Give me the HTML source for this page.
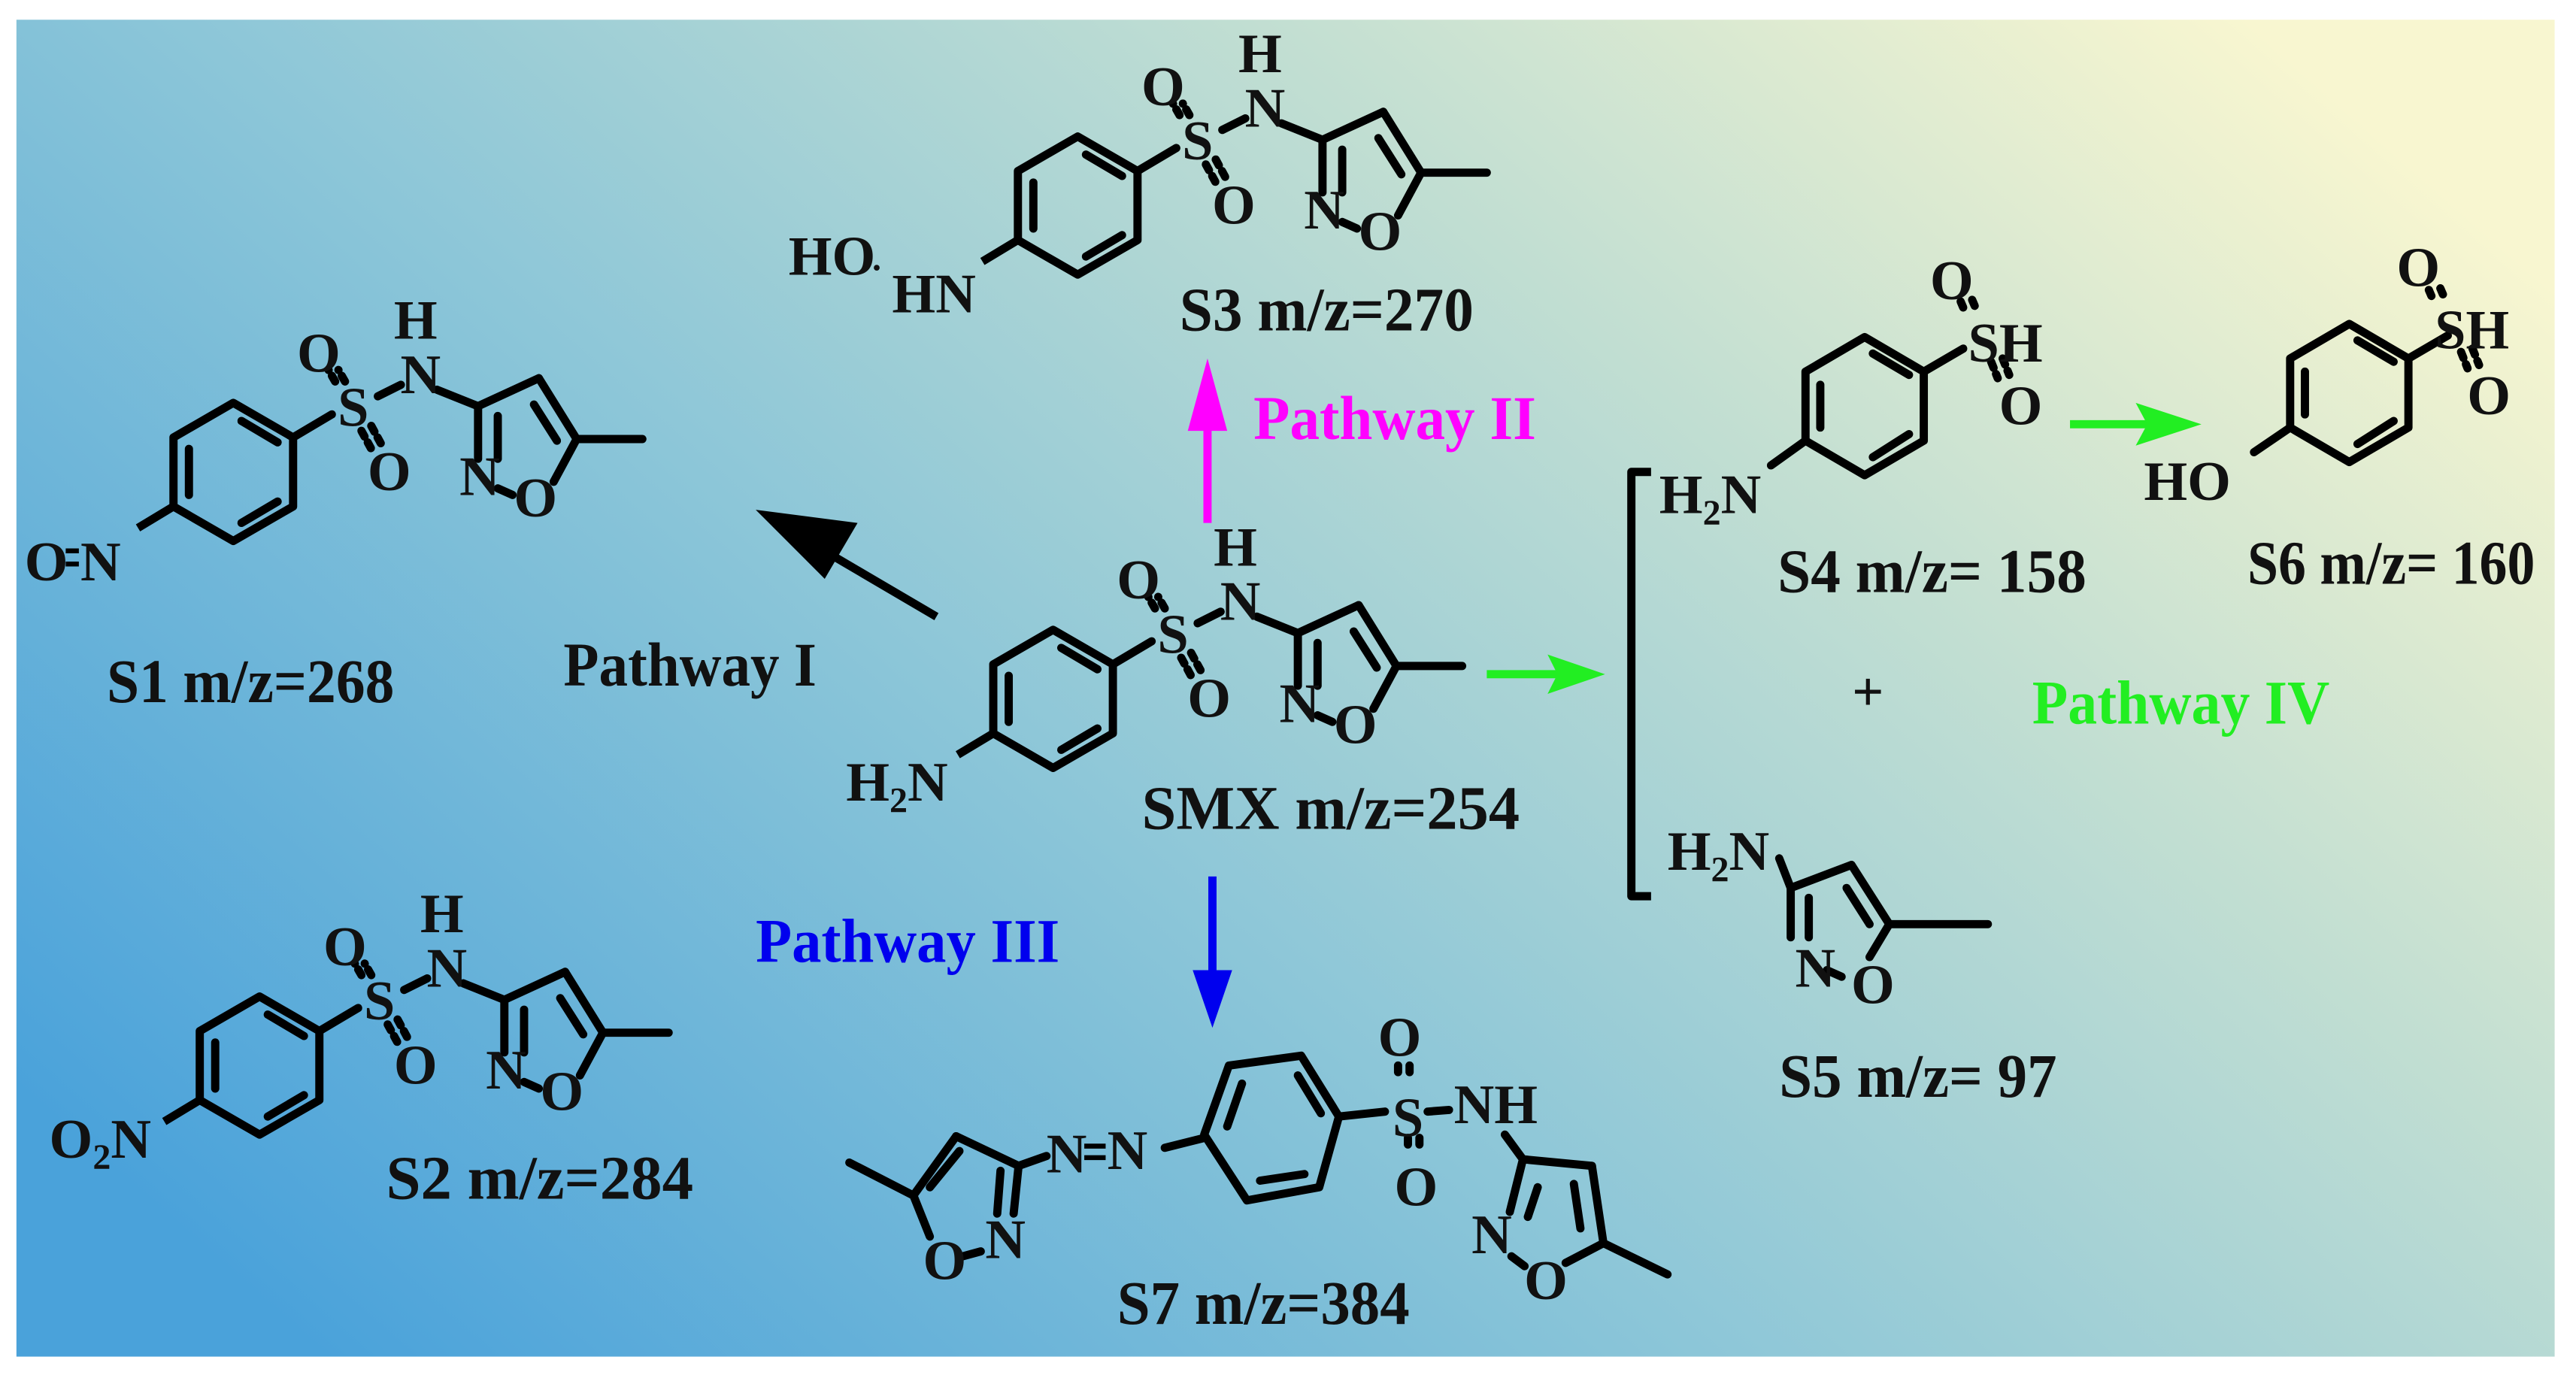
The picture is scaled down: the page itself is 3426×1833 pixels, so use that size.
<!DOCTYPE html>
<html><head><meta charset="utf-8"><style>
html,body{margin:0;padding:0;background:#fff}
svg{display:block}
text{font-family:"Liberation Serif",serif;font-weight:bold;fill:#111}
</style></head><body>
<svg width="3426" height="1833" viewBox="0 0 1568 838" preserveAspectRatio="none" xmlns="http://www.w3.org/2000/svg">
<defs>
<linearGradient id="bg" x1="0" y1="0.8" x2="1" y2="0.2">
<stop offset="0" stop-color="#4aa2da"/>
<stop offset="0.4" stop-color="#8cc6d8"/>
<stop offset="0.72" stop-color="#c3dfd2"/>
<stop offset="1" stop-color="#f8f6d0"/>
</linearGradient>
<g id="core" stroke="#000" stroke-width="5" fill="none" stroke-linecap="round">
<polygon points="0,-42 36.4,-21 36.4,21 0,42 -36.4,21 -36.4,-21" stroke-linejoin="round"/>
<line x1="5" y1="-31" x2="27" y2="-18"/>
<line x1="27" y1="18" x2="5" y2="31"/>
<line x1="-27" y1="14" x2="-27" y2="-14"/>
<line x1="36.4" y1="-21" x2="60" y2="-35"/>
<line x1="62" y1="-55" x2="58" y2="-62" stroke-dasharray="4 4"/>
<line x1="68" y1="-55" x2="64" y2="-62" stroke-dasharray="4 4"/>
<line x1="78" y1="-25" x2="84" y2="-14" stroke-dasharray="4 4"/>
<line x1="84" y1="-28" x2="90" y2="-17" stroke-dasharray="4 4"/>
<line x1="88" y1="-46" x2="102" y2="-53"/>
<line x1="124" y1="-50" x2="149" y2="-40"/>
<line x1="149" y1="-40" x2="186" y2="-57"/>
<line x1="186" y1="-57" x2="209" y2="-20"/>
<line x1="183" y1="-41" x2="197" y2="-19"/>
<line x1="209" y1="-20" x2="249" y2="-20"/>
<line x1="209" y1="-20" x2="195" y2="6"/>
<line x1="149" y1="-40" x2="149" y2="-8"/>
<line x1="161" y1="-34" x2="161" y2="-8"/>
<line x1="161" y1="10" x2="170" y2="14"/>
</g>
<g id="atoms" font-size="34" text-anchor="middle">
<text x="73" y="-28">S</text>
<text x="52" y="-61">O</text>
<text x="95" y="11">O</text>
<text x="114" y="-48">N</text>
<text x="111" y="-81">H</text>
<text x="150" y="14">N</text>
<text x="184" y="27">O</text>
</g>
</defs>
<rect x="0" y="0" width="1568" height="838" fill="#fff"/>
<rect x="10" y="12" width="1545" height="813" fill="url(#bg)"/>

<!-- SMX -->
<g transform="translate(641,425)"><use href="#core"/><use href="#atoms"/>
<line x1="-36.4" y1="21" x2="-58" y2="34" stroke="#000" stroke-width="5"/></g>
<text x="515" y="487" font-size="34">H<tspan font-size="22" dy="7">2</tspan><tspan dy="-7">N</tspan></text>
<text x="695" y="504" font-size="38" textLength="230" lengthAdjust="spacingAndGlyphs">SMX  m/z=254</text>

<!-- S3 -->
<g transform="translate(656,125)"><use href="#core"/><use href="#atoms"/>
<line x1="-36.4" y1="21" x2="-58" y2="34" stroke="#000" stroke-width="5"/></g>
<text x="480" y="167" font-size="34">HO</text>
<text x="530" y="170" font-size="22">·</text>
<text x="543" y="190" font-size="34">HN</text>
<text x="718" y="201" font-size="38" textLength="179" lengthAdjust="spacingAndGlyphs">S3 m/z=270</text>

<!-- S1 -->
<g transform="translate(142,287)"><use href="#core"/><use href="#atoms"/>
<line x1="-36.4" y1="21" x2="-58" y2="34" stroke="#000" stroke-width="5"/></g>
<text x="15" y="353" font-size="34">O</text>
<line x1="40" y1="335" x2="48" y2="335" stroke="#000" stroke-width="3"/>
<line x1="40" y1="343" x2="48" y2="343" stroke="#000" stroke-width="3"/>
<text x="49" y="353" font-size="34">N</text>
<text x="65" y="427" font-size="38" textLength="175" lengthAdjust="spacingAndGlyphs">S1 m/z=268</text>

<!-- S2 -->
<g transform="translate(158,648)"><use href="#core"/><use href="#atoms"/>
<line x1="-36.4" y1="21" x2="-58" y2="34" stroke="#000" stroke-width="5"/></g>
<text x="30" y="704" font-size="34">O<tspan font-size="22" dy="7">2</tspan><tspan dy="-7">N</tspan></text>
<text x="235" y="729" font-size="38" textLength="187" lengthAdjust="spacingAndGlyphs">S2  m/z=284</text>

<!-- S7 -->
<g stroke="#000" stroke-width="5" fill="none" stroke-linecap="round" stroke-linejoin="round">
<polygon points="733,690 748,648 792,642 815,679 803,722 759,730"/>
<line x1="747" y1="685" x2="756" y2="659"/>
<line x1="790" y1="654" x2="804" y2="677"/>
<line x1="794" y1="714" x2="767" y2="718"/>
<line x1="709" y1="698" x2="733" y2="692"/>
<line x1="815" y1="679" x2="843" y2="676"/>
<line x1="851" y1="648" x2="851" y2="656" stroke-dasharray="4 4"/>
<line x1="858" y1="648" x2="858" y2="656" stroke-dasharray="4 4"/>
<line x1="857" y1="692" x2="857" y2="700" stroke-dasharray="4 4"/>
<line x1="864" y1="692" x2="864" y2="700" stroke-dasharray="4 4"/>
<line x1="869" y1="676" x2="882" y2="675"/>
<line x1="916" y1="690" x2="927" y2="705"/>
<line x1="927" y1="705" x2="969" y2="709"/>
<line x1="969" y1="709" x2="976" y2="756"/>
<line x1="958" y1="720" x2="962" y2="747"/>
<line x1="976" y1="756" x2="1015" y2="775"/>
<line x1="976" y1="756" x2="953" y2="768"/>
<line x1="927" y1="705" x2="919" y2="737"/>
<line x1="936" y1="722" x2="930" y2="740"/>
<line x1="920" y1="764" x2="928" y2="770"/>
<!-- left isoxazole -->
<line x1="517" y1="707" x2="556" y2="727"/>
<line x1="556" y1="727" x2="582" y2="691"/>
<line x1="566" y1="722" x2="584" y2="700"/>
<line x1="582" y1="691" x2="620" y2="709"/>
<line x1="620" y1="709" x2="617" y2="738"/>
<line x1="609" y1="712" x2="607" y2="738"/>
<line x1="556" y1="727" x2="566" y2="752"/>
<line x1="620" y1="709" x2="637" y2="703"/>
<line x1="586" y1="764" x2="597" y2="761"/>
</g>
<text x="857" y="691" font-size="34" text-anchor="middle">S</text>
<text x="852" y="642" font-size="34" text-anchor="middle">O</text>
<text x="862" y="733" font-size="34" text-anchor="middle">O</text>
<text x="885" y="683" font-size="34">NH</text>
<text x="908" y="762" font-size="34" text-anchor="middle">N</text>
<text x="941" y="790" font-size="34" text-anchor="middle">O</text>
<text x="575" y="778" font-size="34" text-anchor="middle">O</text>
<text x="612" y="765" font-size="34" text-anchor="middle">N</text>
<text x="637" y="713" font-size="34">N</text>
<text x="674" y="711" font-size="34">N</text>
<line x1="660" y1="697" x2="673" y2="697" stroke="#000" stroke-width="3"/>
<line x1="660" y1="704" x2="673" y2="704" stroke="#000" stroke-width="3"/>
<text x="680" y="805" font-size="38" textLength="178" lengthAdjust="spacingAndGlyphs">S7 m/z=384</text>

<!-- S4 -->
<g stroke="#000" stroke-width="5" fill="none" stroke-linecap="round" stroke-linejoin="round">
<polygon points="1135,205 1171,226 1171,268 1135,289 1099,268 1099,226"/>
<line x1="1140" y1="215" x2="1162" y2="228"/>
<line x1="1162" y1="264" x2="1140" y2="278"/>
<line x1="1108" y1="260" x2="1108" y2="234"/>
<line x1="1099" y1="268" x2="1078" y2="283"/>
<line x1="1171" y1="226" x2="1195" y2="212"/>
<line x1="1195" y1="187" x2="1192" y2="180" stroke-dasharray="4 4"/>
<line x1="1202" y1="186" x2="1199" y2="179" stroke-dasharray="4 4"/>
<line x1="1212" y1="220" x2="1216" y2="230" stroke-dasharray="4 4"/>
<line x1="1219" y1="218" x2="1223" y2="228" stroke-dasharray="4 4"/>
<!-- S6 -->
<polygon points="1430,197 1466,218 1466,260 1430,281 1394,260 1394,218"/>
<line x1="1435" y1="207" x2="1457" y2="220"/>
<line x1="1457" y1="256" x2="1435" y2="270"/>
<line x1="1403" y1="252" x2="1403" y2="226"/>
<line x1="1394" y1="260" x2="1372" y2="275"/>
<line x1="1466" y1="218" x2="1490" y2="204"/>
<line x1="1480" y1="180" x2="1477" y2="173" stroke-dasharray="4 4"/>
<line x1="1487" y1="179" x2="1484" y2="172" stroke-dasharray="4 4"/>
<line x1="1498" y1="214" x2="1502" y2="224" stroke-dasharray="4 4"/>
<line x1="1505" y1="212" x2="1509" y2="222" stroke-dasharray="4 4"/>
<!-- bracket -->
<polyline points="1005,287 993,287 993,545 1005,545" stroke-linecap="butt"/>
<!-- S5 -->
<line x1="1083" y1="522" x2="1090" y2="540"/>
<line x1="1090" y1="540" x2="1127" y2="526"/>
<line x1="1127" y1="526" x2="1150" y2="562"/>
<line x1="1124" y1="540" x2="1138" y2="562"/>
<line x1="1150" y1="562" x2="1210" y2="562"/>
<line x1="1150" y1="562" x2="1138" y2="582"/>
<line x1="1090" y1="540" x2="1090" y2="570"/>
<line x1="1101" y1="546" x2="1101" y2="570"/>
<line x1="1112" y1="590" x2="1121" y2="594"/>
</g>
<text x="1010" y="312" font-size="34">H<tspan font-size="22" dy="7">2</tspan><tspan dy="-7">N</tspan></text>
<text x="1188" y="182" font-size="34" text-anchor="middle">O</text>
<text x="1198" y="220" font-size="34">SH</text>
<text x="1230" y="258" font-size="34" text-anchor="middle">O</text>
<text x="1082" y="360" font-size="38" textLength="188" lengthAdjust="spacingAndGlyphs">S4 m/z= 158</text>
<text x="1305" y="304" font-size="34">HO</text>
<text x="1472" y="174" font-size="34" text-anchor="middle">O</text>
<text x="1482" y="212" font-size="34">SH</text>
<text x="1515" y="252" font-size="34" text-anchor="middle">O</text>
<text x="1368" y="355" font-size="38" textLength="175" lengthAdjust="spacingAndGlyphs">S6 m/z= 160</text>
<text x="1137" y="432" font-size="34" text-anchor="middle">+</text>
<text x="1015" y="529" font-size="34">H<tspan font-size="22" dy="7">2</tspan><tspan dy="-7">N</tspan></text>
<text x="1105" y="600" font-size="34" text-anchor="middle">N</text>
<text x="1140" y="610" font-size="34" text-anchor="middle">O</text>
<text x="1083" y="667" font-size="38" textLength="169" lengthAdjust="spacingAndGlyphs">S5 m/z= 97</text>

<!-- arrows & pathway labels -->
<line x1="570" y1="375" x2="495" y2="331" stroke="#000" stroke-width="5"/>
<polygon points="460,310 522,318 502,352" fill="#000"/>
<text x="343" y="417" font-size="38" textLength="154" lengthAdjust="spacingAndGlyphs">Pathway I</text>
<line x1="735" y1="318" x2="735" y2="255" stroke="#ff00ff" stroke-width="5"/>
<polygon points="735,218 723,262 747,262" fill="#ff00ff"/>
<text x="763" y="267" font-size="38" textLength="172" lengthAdjust="spacingAndGlyphs" style="fill:#ff00ff">Pathway II</text>
<line x1="738" y1="533" x2="738" y2="600" stroke="#0000ee" stroke-width="5"/>
<polygon points="738,625 726,590 750,590" fill="#0000ee"/>
<text x="460" y="585" font-size="38" textLength="185" lengthAdjust="spacingAndGlyphs" style="fill:#0000ee">Pathway III</text>
<line x1="905" y1="410" x2="950" y2="410" stroke="#22ee22" stroke-width="5"/>
<polygon points="977,410 942,398 948,410 942,422" fill="#22ee22"/>
<line x1="1260" y1="258" x2="1310" y2="258" stroke="#22ee22" stroke-width="5"/>
<polygon points="1340,258 1300,245 1307,258 1300,271" fill="#22ee22"/>
<text x="1237" y="440" font-size="38" textLength="181" lengthAdjust="spacingAndGlyphs" style="fill:#22ee22">Pathway IV</text>
</svg>
</body></html>
